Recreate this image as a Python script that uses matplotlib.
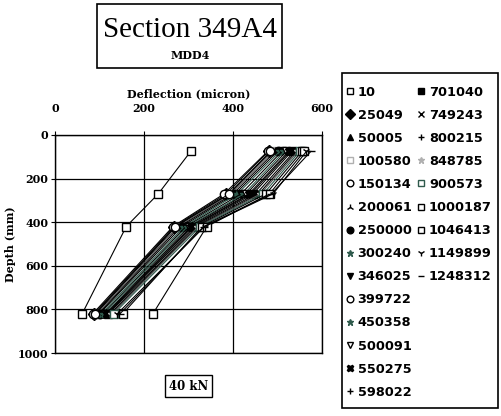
import matplotlib
matplotlib.use("Agg")
import matplotlib.pyplot as plt
from matplotlib.lines import Line2D

# sensor depths (mm) and deflections (micron) for each load repetition count
depths = [75, 270, 420, 820]

reps = ["10", "25049", "50005", "100580", "150134", "200061", "250000",
        "300240", "346025", "399722", "450358", "500091", "550275", "598022",
        "701040", "749243", "800215", "848785", "900573", "1000187",
        "1046413", "1149899", "1248312"]

d_10 = [305, 232, 160, 61]
d_25049 = [480, 385, 268, 88]
d_50005 = [486, 390, 272, 92]
d_100580 = [490, 395, 276, 95]
d_150134 = [478, 380, 265, 85]
d_200061 = [495, 400, 280, 98]
d_250000 = [500, 405, 285, 100]
d_300240 = [505, 410, 290, 104]
d_346025 = [510, 418, 294, 108]
d_399722 = [484, 392, 270, 90]
d_450358 = [515, 425, 298, 110]
d_500091 = [520, 430, 302, 114]
d_550275 = [525, 436, 306, 116]
d_598022 = [528, 440, 308, 118]
d_701040 = [532, 445, 312, 120]
d_749243 = [538, 452, 316, 124]
d_800215 = [542, 458, 320, 126]
d_848785 = [546, 462, 322, 128]
d_900573 = [550, 468, 326, 132]
d_1000187 = [555, 474, 330, 152]
d_1046413 = [560, 482, 341, 220]
d_1149899 = [565, 490, 336, 140]
d_1248312 = [575, 486, 334, 146]

series = [d_10, d_25049, d_50005, d_100580, d_150134, d_200061, d_250000,
          d_300240, d_346025, d_399722, d_450358, d_500091, d_550275,
          d_598022, d_701040, d_749243, d_800215, d_848785, d_900573,
          d_1000187, d_1046413, d_1149899, d_1248312]

GRN = "#2f5a4c"
GRY = "#b0b0b0"
# (marker, colour, filled)
styles = [("s", "black", False), ("D", "black", True), ("^", "black", True),
          ("s", GRY, False), ("o", "black", False), ("2", "black", True),
          ("o", "black", True), ("*", GRN, True), ("v", "black", True),
          ("o", "black", False), ("*", GRN, True), ("v", "black", False),
          ("X", "black", True), ("+", "black", True), ("s", "black", True),
          ("x", "black", True), ("+", "black", True), ("*", GRY, True),
          ("s", GRN, False), ("s", "black", False), ("s", "black", False),
          ("1", "black", True), ("_", "black", True)]

fig = plt.figure(figsize=(5.01, 4.16), dpi=100)
ax = fig.add_axes([0.1098, 0.1514, 0.533, 0.5241])

handles = []
for lab, vals, (mk, col, filled) in zip(reps, series, styles):
    fc = col if filled else "white"
    ln, = ax.plot(vals, depths, color=col if col != GRY else "#555555",
                  linewidth=0.8, marker=mk, markersize=6,
                  markerfacecolor=fc, markeredgecolor=col, markeredgewidth=1.0)
    handles.append(ln)

ax.set_xlim(0, 600)
ax.set_ylim(1000, 0)
ax.set_xticks([0, 200, 400, 600])
ax.set_yticks([0, 200, 400, 600, 800, 1000])
ax.xaxis.tick_top()
ax.xaxis.set_label_position("top")
ax.grid(True, color="black", linewidth=0.9)
ax.tick_params(axis="x", length=3, width=0.8, labelsize=8, pad=12)
ax.tick_params(axis="y", length=3, width=0.8, labelsize=8, pad=2)
for t in ax.get_xticklabels() + ax.get_yticklabels():
    t.set_fontweight("bold")
    t.set_family("DejaVu Serif")
for s in ax.spines.values():
    s.set_linewidth(1.0)

ax.set_xlabel("Deflection (micron)", fontsize=8, fontweight="bold",
              family="DejaVu Serif", labelpad=4)
ax.set_ylabel("Depth (mm)", fontsize=8, fontweight="bold",
              family="DejaVu Serif", labelpad=1)

# title box
fig.text(0.379, 0.929, "Section 349A4", fontsize=21, family="Liberation Serif",
         ha="center", va="center")
fig.text(0.379, 0.866, "MDD4", fontsize=8, family="DejaVu Serif",
         fontweight="bold", ha="center", va="center")
fig.patches.append(plt.Rectangle((0.194, 0.837), 0.369, 0.153, fill=False,
                                 edgecolor="black", linewidth=1.2,
                                 transform=fig.transFigure))

fig.text(0.376, 0.072, "40 kN", fontsize=8.5, family="DejaVu Serif",
         fontweight="bold", ha="center", va="center",
         bbox=dict(boxstyle="square,pad=0.35", facecolor="white",
                   edgecolor="black", linewidth=1.0))

# legend: 13 in first column, 9 in second, frame drawn separately
blank = Line2D([], [], linestyle="none", marker="none")
leg_h = handles[:13] + handles[13:] + [blank] * 4
leg_l = reps[:13] + reps[13:] + [""] * 4
leg = fig.legend(leg_h, leg_l, ncol=2, loc="upper left",
                 bbox_to_anchor=(0.688, 0.794),
                 prop=dict(weight="bold", size=9.3), frameon=False,
                 labelspacing=0.78, handlelength=0.8,
                 handletextpad=0.2, columnspacing=0.35, borderpad=0.0,
                 borderaxespad=0.0, markerscale=0.8)
for h in leg.legend_handles:
    h.set_linestyle("none")
fig.patches.append(plt.Rectangle((342 / 501, 1 - 408 / 416), 156 / 501,
                                 335 / 416, fill=False, edgecolor="black",
                                 linewidth=1.2, transform=fig.transFigure))

fig.savefig("out.png", dpi=100)
